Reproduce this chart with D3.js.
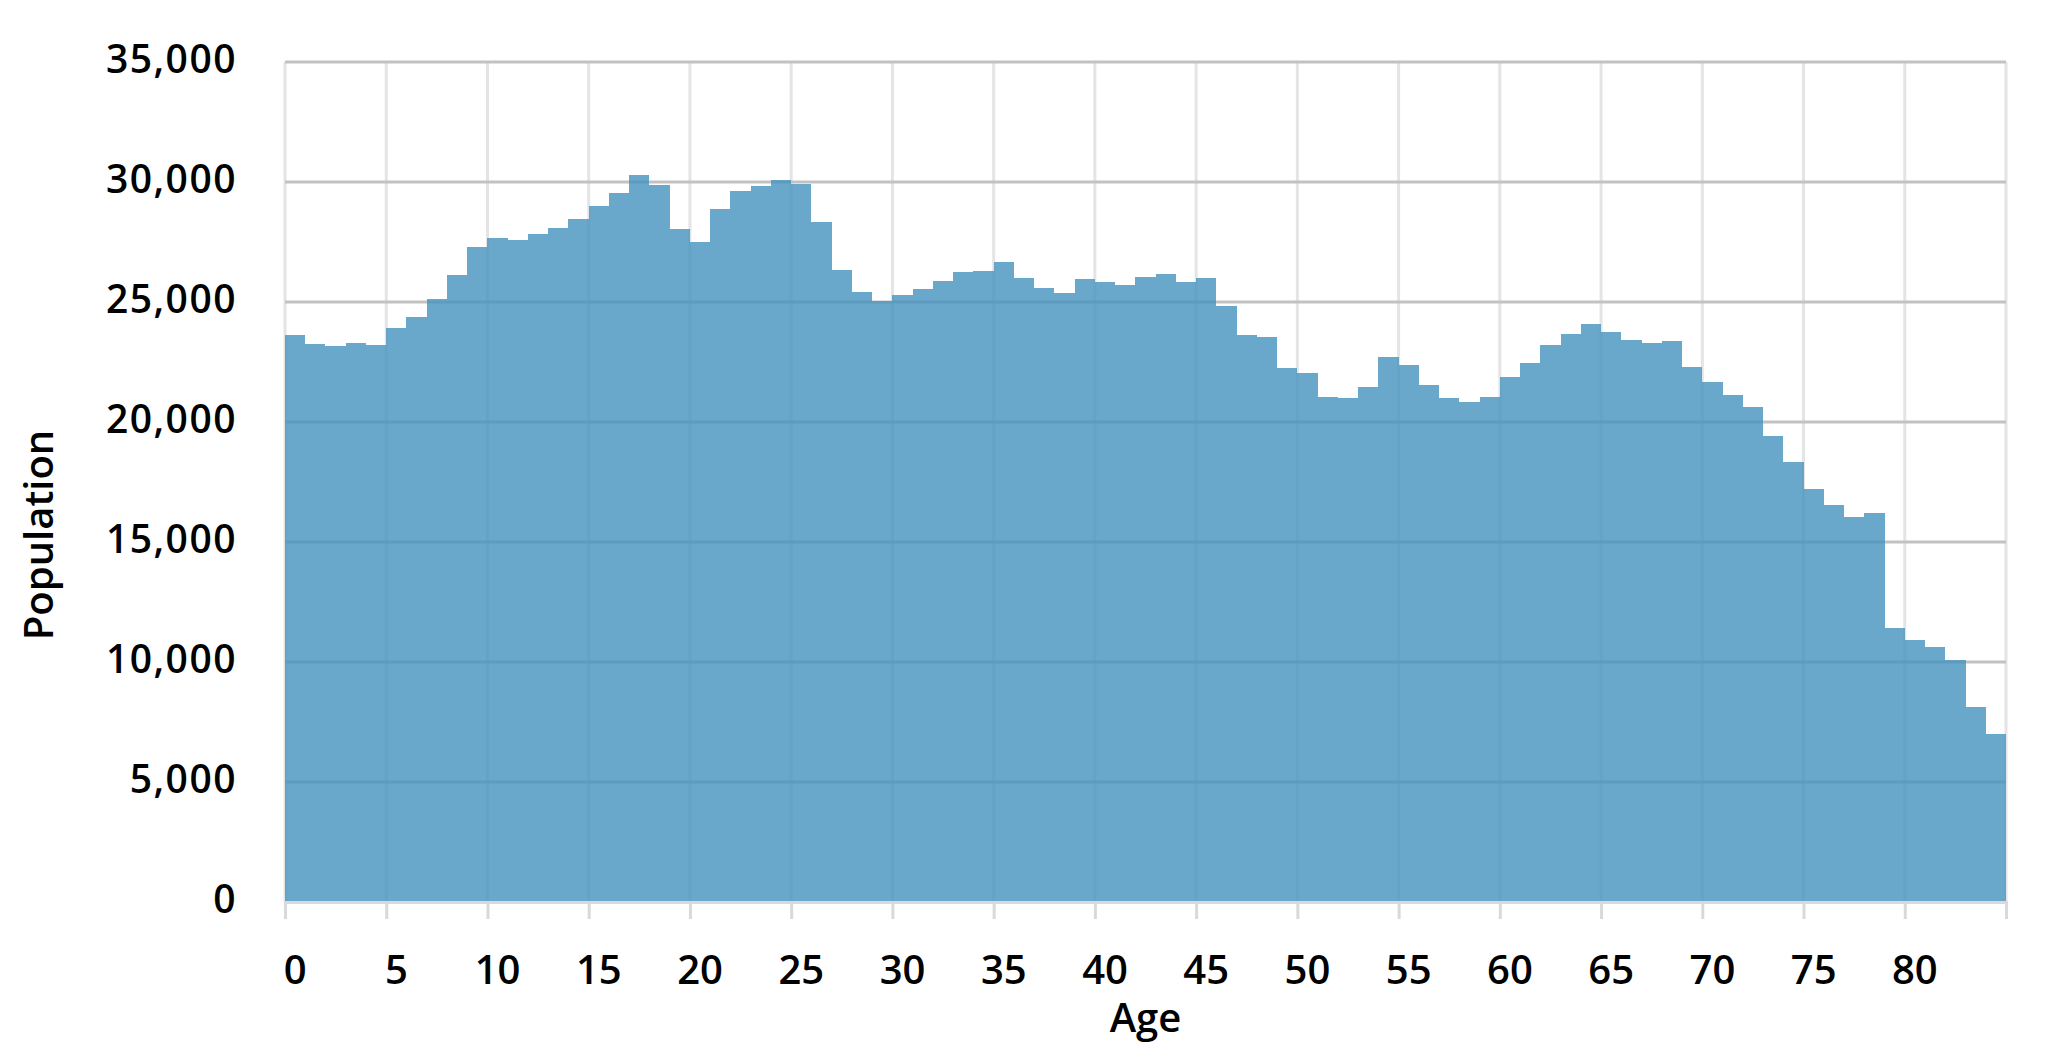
<!DOCTYPE html>
<html>
<head>
<meta charset="utf-8">
<script src="https://cdn.jsdelivr.net/npm/d3@7"></script>
<style>
  body { margin: 0; background: #fff; }
  text { font-family: "Open Sans", "Noto Sans", sans-serif; font-weight: 600; fill: #000; }
</style>
</head>
<body>
<svg id="chart"></svg>
<script>
// one bar per year of age
const ages = [
  0, 1, 2, 3, 4, 5, 6, 7, 8, 9, 10, 11, 12, 13, 14, 15, 16, 17, 18, 19,
  20, 21, 22, 23, 24, 25, 26, 27, 28, 29, 30, 31, 32, 33, 34, 35, 36, 37, 38, 39,
  40, 41, 42, 43, 44, 45, 46, 47, 48, 49, 50, 51, 52, 53, 54, 55, 56, 57, 58, 59,
  60, 61, 62, 63, 64, 65, 66, 67, 68, 69, 70, 71, 72, 73, 74, 75, 76, 77, 78, 79,
  80, 81, 82, 83, 84
]
const population = [
  23625, 23250, 23170, 23290, 23210, 23920, 24380, 25130, 26130, 27290,
  27670, 27600, 27830, 28080, 28460, 29000, 29540, 30290, 29880, 28040,
  27510, 28880, 29630, 29830, 30080, 29930, 28350, 26350, 25430, 25030,
  25290, 25560, 25880, 26250, 26290, 26670, 26010, 25600, 25380, 25970,
  25830, 25710, 26040, 26170, 25830, 26000, 24820, 23630, 23540, 22250,
  22040, 21060, 21000, 21460, 22710, 22380, 21540, 21000, 20830, 21060,
  21880, 22460, 23210, 23670, 24100, 23760, 23430, 23290, 23390, 22290,
  21670, 21130, 20640, 19420, 18350, 17220, 16560, 16060, 16210, 11420,
  10930, 10640, 10080, 8130, 7010
]
const xTicks = [0, 5, 10, 15, 20, 25, 30, 35, 40, 45, 50, 55, 60, 65, 70, 75, 80, 85]
const xLabels = [0, 5, 10, 15, 20, 25, 30, 35, 40, 45, 50, 55, 60, 65, 70, 75, 80]
const yTicks = [0, 5000, 10000, 15000, 20000, 25000, 30000, 35000]

const W = 2072, H = 1052
const margin = { top: 62, right: 66, bottom: 150, left: 285 }
const width = W - margin.left - margin.right
const height = H - margin.top - margin.bottom

const svg = d3.select("#chart").attr("width", W).attr("height", H)
const g = svg.append("g").attr("transform", `translate(${margin.left},${margin.top})`)

const x = d3.scaleLinear().domain([0, 85]).range([0, width])
const y = d3.scaleLinear().domain([0, 35000]).range([height, 0])

// rejilla vertical (clara) y horizontal (mas oscura)
g.append("g")
  .selectAll("line")
  .data(xTicks)
  .join("line")
  .attr("x1", d => x(d)).attr("x2", d => x(d))
  .attr("y1", 0).attr("y2", height)
  .attr("stroke", "#e4e4e4")
  .attr("stroke-width", 3)

g.append("g")
  .selectAll("line")
  .data(yTicks.filter(d => d > 0))
  .join("line")
  .attr("x1", 0).attr("x2", width)
  .attr("y1", d => y(d)).attr("y2", d => y(d))
  .attr("stroke", "#c2c2c2")
  .attr("stroke-width", 3)

// barras semitransparentes para que se vea la rejilla, sin costuras entre ellas
g.append("g")
  .attr("shape-rendering", "crispEdges")
  .selectAll("rect")
  .data(ages)
  .join("rect")
  .attr("x", d => Math.round(x(d)))
  .attr("y", (d, i) => y(population[i]))
  .attr("width", d => Math.round(x(d + 1)) - Math.round(x(d)))
  .attr("height", (d, i) => height - y(population[i]))
  .attr("fill", "#4592be")
  .attr("fill-opacity", 0.8)

// ticks del eje x
const xAxis = g.append("g")
  .attr("transform", `translate(0,${height})`)
  .call(d3.axisBottom(x).tickValues(xTicks).tickSize(17).tickFormat(""))
xAxis.select(".domain").attr("stroke", "#d9d9d9").attr("stroke-width", 3)
xAxis.selectAll(".tick line").attr("stroke", "#d9d9d9").attr("stroke-width", 3)

// etiquetas centradas en la barra
g.append("g")
  .selectAll("text")
  .data(xLabels)
  .join("text")
  .attr("x", d => x(d + 0.5))
  .attr("y", height + 82)
  .attr("text-anchor", "middle")
  .style("font-size", "40px")
  .text(d => d)

const yAxis = g.append("g")
  .call(d3.axisLeft(y).tickValues(yTicks).tickSize(0).tickPadding(48).tickFormat(d3.format(",")))
yAxis.select(".domain").remove()
yAxis.selectAll("text")
  .attr("dy", "0.26em")
  .style("font-size", "39px")
  .style("letter-spacing", "1.5px")
  .style("font-family", null)
  .attr("fill", "#000")

svg.append("text")
  .attr("x", margin.left + width / 2)
  .attr("y", 1032)
  .attr("text-anchor", "middle")
  .style("font-size", "40px")
  .text("Age")

svg.append("text")
  .attr("transform", "translate(53,535) rotate(-90)")
  .attr("text-anchor", "middle")
  .style("font-size", "40px")
  .text("Population")
</script>
</body>
</html>
